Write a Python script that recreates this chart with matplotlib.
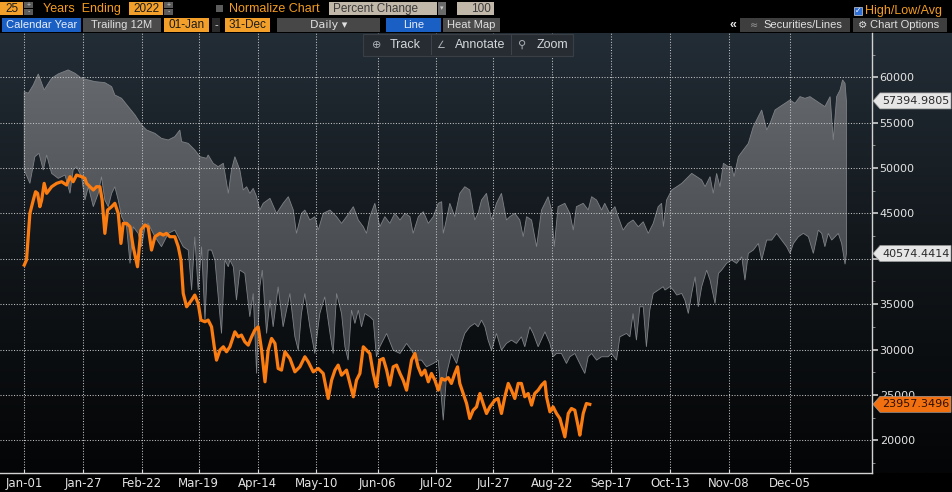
import numpy as np
import matplotlib
matplotlib.use('Agg')
import matplotlib.pyplot as plt
from matplotlib.patches import Rectangle, Polygon
from matplotlib.colors import LinearSegmentedColormap

W, H = 952, 492

# ---------------- data ----------------
tick_days = [0, 26, 52, 77, 103, 129, 156, 182, 207, 233, 259, 285, 311, 338]
tick_labels = ['Jan-01', 'Jan-27', 'Feb-22', 'Mar-19', 'Apr-14', 'May-10', 'Jun-06',
               'Jul-02', 'Jul-27', 'Aug-22', 'Sep-17', 'Oct-13', 'Nov-08', 'Dec-05']

y_ticks = [20000, 25000, 30000, 35000, 40000, 45000, 50000, 55000, 60000]
# 40000 is hidden behind the 40574 tag in the reference
y_tick_labels = ['20000', '25000', '30000', '35000', '', '45000', '50000', '55000', '60000']

high_days = [0, 1.8, 4.0, 6.2, 8.8, 12.1, 15.0, 19.4, 22.4, 25.3, 31.2, 35.6, 38.6, 40.0, 43.0,
             45.9, 48.9, 51.8, 54.0, 57.7, 60.6, 63.6, 66.5, 68.7, 69.5, 72.4, 75.3, 77.6, 80.5,
             81.2, 83.4, 85.6, 87.9, 90.1, 91.5, 93.0, 95.2, 96.7, 98.2, 99.6, 101.1, 102.6,
             104.0, 105.5, 108.5, 111.4, 114.3, 116.6, 118.8, 120.2, 122.4, 123.9, 126.1, 128.3,
             129.8, 132.0, 135.0, 137.9, 140.1, 142.3, 145.3, 147.5, 149.7, 151.1, 152.6, 154.8,
             157.0, 159.2, 161.4, 163.6, 165.9, 168.1, 170.3, 171.7, 174.0, 176.2, 178.4, 180.6,
             182.8, 184.3, 185.0, 185.7, 187.9, 190.1, 192.3, 194.5, 196.7, 198.9, 200.4, 201.9,
             204.1, 206.3, 208.5, 210.7, 212.9, 214.4, 216.6, 218.8, 220.3, 221.8, 224.0, 226.2,
             228.4, 231.3, 232.8, 234.0, 235.7, 238.7, 240.9, 242.4, 243.8, 246.8, 249.0, 250.5,
             252.7, 254.9, 256.3, 258.5, 260.8, 262.2, 264.4, 266.6, 268.8, 271.1, 273.3, 275.5,
             277.7, 279.9, 281.4, 282.2, 283.6, 285.9, 288.1, 290.3, 292.5, 294.7, 296.9, 299.1,
             300.6, 302.8, 304.2, 305.7, 307.2, 308.7, 310.9, 312.3, 313.4, 315.3, 317.5, 319.7,
             321.9, 324.1, 325.6, 327.8, 329.3, 331.5, 333.7, 335.9, 338.1, 340.3, 342.5, 344.7,
             346.9, 349.1, 351.3, 353.5, 355.8, 357.2, 358.7, 360.2, 361.3, 362.4, 363.0]
high_vals = [58420, 58240, 59150, 60370, 58600, 59890, 60370, 60810, 60440, 59890, 59520, 59410,
             58970, 58050, 57680, 56770, 55850, 54740, 54190, 53820, 53270, 53090, 53460, 54190,
             52910, 52720, 51990, 51250, 51070, 51440, 50520, 50150, 50520, 47210, 49780, 51250,
             49780, 47580, 47940, 47210, 47760, 46840, 45370, 46110, 46660, 45000, 46110, 46840,
             45370, 42800, 45000, 45370, 44270, 44640, 43160, 45000, 45370, 44640, 43900, 44640,
             45740, 44270, 43530, 42800, 44640, 46110, 43530, 44640, 43900, 45000, 44270, 45000,
             44640, 42800, 44640, 45190, 43900, 44640, 46110, 46290, 42800, 43530, 46110, 44640,
             47210, 47940, 47580, 44270, 45000, 46470, 47210, 44270, 46110, 47210, 44270, 44640,
             45000, 44270, 42430, 44640, 44270, 41330, 45370, 46840, 45370, 41330, 45740, 46110,
             45000, 43160, 45740, 46110, 45370, 46840, 46470, 45370, 46110, 45000, 45740, 44640,
             43160, 43900, 44270, 43530, 44080, 42800, 43900, 45740, 46110, 43530, 46470, 47580,
             47940, 48310, 48860, 49410, 49050, 48680, 47940, 49050, 47210, 49410, 47940, 50520,
             50150, 50150, 49050, 51250, 51990, 52720, 54560, 55660, 56400, 54190, 54930, 56400,
             56770, 57130, 57500, 57130, 57870, 57680, 57870, 57500, 57130, 56770, 57870, 53090,
             57870, 58600, 59710, 59340, 57394.9805]

low_days = [0, 2.5, 4.7, 6.5, 8.4, 9.9, 12.1, 15.0, 18.0, 20.2, 21.6, 23.1, 25.3, 26.8, 28.3,
            30.5, 32.7, 34.1, 35.6, 37.1, 38.6, 40.0, 41.5, 43.0, 45.2, 46.7, 48.1, 50.3, 51.8,
            53.3, 54.7, 57.7, 60.6, 63.6, 66.5, 68.7, 70.2, 72.4, 73.9, 75.3, 76.8, 78.3, 79.8,
            81.2, 82.7, 84.2, 87.1, 88.6, 90.1, 90.8, 92.3, 93.7, 95.2, 97.4, 99.6, 101.1, 102.6,
            104.0, 105.1, 107.0, 108.5, 109.9, 112.1, 114.3, 117.3, 119.5, 121.0, 122.4, 123.9,
            126.1, 128.3, 130.5, 132.7, 135.0, 136.4, 137.9, 140.1, 141.6, 143.0, 144.5, 146.0,
            147.5, 148.9, 150.4, 152.6, 154.1, 155.5, 157.0, 160.0, 162.9, 165.9, 168.8, 171.0,
            173.2, 175.4, 177.6, 180.6, 182.8, 185.0, 186.5, 188.6, 190.9, 193.1, 194.5, 196.7,
            198.9, 200.4, 201.9, 203.4, 204.8, 206.3, 208.5, 210.7, 212.9, 215.1, 217.3, 219.5,
            221.0, 223.2, 224.7, 226.9, 229.9, 232.1, 233.5, 235.0, 237.2, 239.4, 240.9, 243.1,
            246.0, 247.5, 249.0, 250.5, 252.7, 254.9, 257.8, 259.3, 261.5, 263.0, 265.9, 267.4,
            268.8, 270.3, 271.8, 273.3, 274.7, 276.2, 277.7, 279.9, 282.1, 282.9, 285.1, 286.6,
            288.1, 290.3, 291.7, 293.2, 294.7, 296.2, 297.6, 299.1, 301.3, 302.8, 305.0, 306.5,
            307.9, 310.1, 312.3, 314.5, 316.8, 318.2, 319.7, 321.9, 324.1, 325.6, 327.8, 330.0,
            332.2, 334.4, 336.6, 338.1, 339.6, 341.8, 344.0, 346.2, 348.4, 350.6, 352.1, 353.5,
            355.0, 356.5, 358.0, 359.4, 360.9, 362.4, 363.0]
low_vals = [49780, 48310, 51250, 51620, 49780, 51440, 49410, 48860, 49230, 47210, 49780, 50150,
            49050, 46470, 47940, 45740, 47210, 49050, 46470, 45740, 47210, 47940, 46470, 44640,
            43530, 39490, 43530, 42800, 41330, 43530, 43900, 42430, 41330, 42800, 43160, 42060,
            41330, 40960, 36550, 42430, 36550, 41330, 33240, 40960, 40960, 39860, 31770, 39860,
            39120, 39860, 39120, 35450, 38750, 38390, 33610, 36180, 27360, 36920, 38750, 31770,
            35450, 32500, 36920, 32500, 36180, 31400, 29930, 33970, 36180, 32500, 29560, 33970,
            35810, 31770, 29560, 36180, 33970, 30300, 28830, 34340, 32870, 34340, 32500, 33970,
            33610, 33240, 29200, 30300, 31770, 29930, 29560, 30670, 29930, 28830, 28830, 28090,
            28460, 28830, 22210, 27360, 29560, 28460, 30670, 31770, 32500, 32870, 32500, 33240,
            32500, 31030, 29930, 31770, 29930, 30670, 31030, 30670, 31400, 30300, 32500, 31770,
            30300, 31950, 30670, 29200, 29560, 29560, 28460, 29200, 29560, 28090, 27360, 29200,
            29560, 28830, 29200, 29200, 29560, 28830, 31400, 31770, 31400, 33970, 31030, 34710,
            34710, 30300, 34340, 36180, 36550, 36920, 36550, 36920, 36550, 36000, 36180, 35450,
            33970, 36180, 38020, 34710, 36920, 38750, 37650, 35080, 38390, 38750, 39490, 39860,
            39490, 40220, 37650, 40590, 40960, 41690, 39860, 42060, 42060, 42800, 42060, 41330,
            40590, 41690, 42430, 42800, 42430, 40590, 43160, 42800, 41330, 42800, 42060, 42430,
            42800, 41690, 39400, 40574.4414]

cur_days = [0, 1.0, 2.5, 4.0, 5.0, 5.9, 6.9, 7.7, 8.8, 9.9, 12.1, 14.3, 16.5, 18.7, 20.2, 21.6,
            23.1, 25.3, 26.8, 27.5, 29.0, 30.5, 31.9, 33.4, 34.4, 35.6, 36.8, 38.6, 40.0, 41.5,
            42.7, 43.7, 45.2, 46.7, 48.1, 50.0, 51.5, 53.3, 54.7, 56.2, 57.7, 59.9, 61.4, 62.8,
            64.3, 66.5, 68.0, 69.2, 70.2, 71.7, 73.9, 75.3, 76.8, 78.0, 79.8, 81.2, 82.7, 83.9,
            84.9, 86.4, 87.9, 89.3, 90.8, 93.0, 94.5, 95.9, 97.4, 98.9, 100.4, 101.8, 103.3,
            104.8, 106.3, 107.7, 109.2, 110.7, 112.1, 113.6, 115.1, 117.3, 119.5, 121.7, 123.9,
            125.4, 127.6, 129.8, 132.0, 134.2, 135.7, 137.2, 138.6, 140.1, 142.3, 143.8, 145.3,
            146.7, 148.2, 149.7, 151.1, 152.6, 154.1, 155.5, 157.0, 158.5, 160.0, 161.4, 162.9,
            164.4, 165.9, 167.3, 168.8, 171.0, 172.5, 173.9, 175.4, 176.9, 178.4, 179.8, 181.3,
            182.8, 184.3, 185.7, 187.2, 188.6, 190.1, 191.3, 192.3, 193.8, 195.3, 196.7, 198.2,
            199.7, 201.2, 202.6, 204.1, 205.6, 207.8, 209.2, 210.7, 212.2, 213.7, 215.1, 216.6,
            218.1, 219.5, 221.0, 222.5, 224.0, 225.4, 226.9, 228.4, 229.9, 230.6, 232.1, 233.5,
            235.0, 236.5, 237.9, 238.7, 240.2, 241.6, 243.1, 244.6, 245.3, 246.8, 248.2, 249.7]
cur_vals = [39300, 39860, 45000, 46470, 47390, 47210, 45740, 46470, 48310, 47210, 47940, 48310,
            48490, 48130, 49050, 48490, 49230, 49050, 48860, 48310, 47940, 47580, 47940, 47940,
            46470, 42800, 45370, 45740, 46110, 45000, 41690, 43900, 43900, 43530, 41330, 39120,
            43160, 43720, 43530, 40960, 42430, 42800, 42610, 42800, 42430, 42430, 41330, 39860,
            36180, 34710, 35450, 36000, 35080, 33240, 33060, 33240, 32500, 30300, 28830, 29930,
            30300, 29750, 30300, 31950, 31400, 31590, 30850, 30480, 31400, 32140, 32500, 29930,
            26440, 29930, 31220, 30670, 27910, 27730, 29750, 29010, 27540, 28090, 29200, 28640,
            27540, 27910, 27360, 24600, 26620, 27730, 28280, 27170, 27730, 26260, 24790, 26620,
            27360, 30300, 29930, 29560, 27360, 25890, 28830, 29010, 27730, 26070, 28090, 28280,
            27360, 26620, 25520, 28830, 29560, 28090, 27170, 27730, 26440, 27360, 26620, 25520,
            26810, 26620, 26900, 26260, 27360, 28090, 26260, 25150, 24050, 22400, 23310, 23680,
            25150, 24050, 22950, 23680, 24420, 24600, 22950, 24790, 26260, 25520, 24600, 26260,
            26260, 24790, 25150, 23870, 25150, 25520, 26070, 26440, 24790, 23130, 23680, 22950,
            22400, 21110, 20370, 22950, 23500, 23310, 21480, 20560, 22950, 24050, 23957.3496]

tag_high = 57394.9805
tag_low = 40574.4414
tag_last = 23957.3496

# ---------------- figure ----------------
fig = plt.figure(figsize=(W / 100, H / 100), dpi=100, facecolor='black')


def fx(x):
    return x / W


def fy(y):
    return 1 - y / H


def box(x0, y0, x1, y1, fc, ec='none', lw=0.0, z=5):
    fig.patches.append(Rectangle((fx(x0), fy(y1)), (x1 - x0) / W, (y1 - y0) / H,
                                 transform=fig.transFigure, facecolor=fc, edgecolor=ec,
                                 linewidth=lw, zorder=z))


def txt(x, y, s, color, size, ha='left', family='Liberation Sans', weight='normal'):
    fig.text(fx(x), fy(y), s, color=color, fontsize=size, ha=ha, va='center',
             family=[family, 'DejaVu Sans'], weight=weight, zorder=7)


# background gradient of the chart area
bg = fig.add_axes([0, fy(473), 1, 440 / H], zorder=-2)
bg_cmap = LinearSegmentedColormap.from_list('bg', ['#040506', '#11161a', '#232d36'])
bg.imshow(np.linspace(0, 1, 256).reshape(-1, 1), cmap=bg_cmap, aspect='auto',
          extent=[0, 1, 0, 1], origin='lower', interpolation='bilinear')
bg.axis('off')

ax = fig.add_axes([0, fy(473), 872 / W, 440 / H], zorder=0)
ax.patch.set_alpha(0)
xmin, xmax = -10.7, 374.3
ymin, ymax = 16390, 64880

# band (high / low) with vertical gradient
poly_x = np.concatenate([high_days, low_days[::-1]])
poly_y = np.concatenate([high_vals, low_vals[::-1]])
band = ax.fill(poly_x, poly_y, facecolor='none', edgecolor='#7e8287', linewidth=0.6, zorder=1.2)[0]
band_cmap = LinearSegmentedColormap.from_list('band', ['#373b40', '#4a4e53', '#666a6f'])
im = ax.imshow(np.linspace(0, 1, 256).reshape(-1, 1), cmap=band_cmap, aspect='auto',
               extent=[xmin, xmax, 20000, 61000], origin='lower', zorder=1.1,
               interpolation='bilinear')
im.set_clip_path(band)

# current year line
ax.plot(cur_days, cur_vals, color='#fb7d12', linewidth=2.3, zorder=3, solid_joinstyle='round')

ax.set_xlim(xmin, xmax)
ax.set_ylim(ymin, ymax)

ax.set_xticks(tick_days)
ax.set_xticklabels(tick_labels)
ax.yaxis.tick_right()
ax.set_yticks(y_ticks)
ax.set_yticks(np.arange(17500, 62501, 5000), minor=True)
ax.set_yticklabels(y_tick_labels)
ax.set_axisbelow('line')
ax.grid(True, which='major', color='#c4c4c4', linestyle=(0, (1.0, 1.6)), linewidth=0.75)
ax.tick_params(axis='x', direction='in', length=3, color='#d8d8d8', labelcolor='#e4e4e4',
               labelsize=8.5, pad=3)
ax.tick_params(axis='y', which='major', direction='out', length=4, width=1.2, color='#cfcfcf',
               labelcolor='#e4e4e4', labelsize=8, pad=1.5, right=True, left=False)
ax.tick_params(axis='y', which='minor', direction='out', length=2.5, color='#9a9a9a',
               right=True, left=False)
for s in ['top', 'left']:
    ax.spines[s].set_visible(False)
for s in ['bottom', 'right']:
    ax.spines[s].set_color('#d2d2d2')
    ax.spines[s].set_linewidth(1.0)


# price tags on right axis
def tag(value, text, face, tcolor):
    ypix = ax.transData.transform((0, value))[1]
    yc = H - ypix
    h = 8
    pts = [(873, yc), (880, yc - h), (951, yc - h), (951, yc + h), (880, yc + h)]
    fig.patches.append(Polygon([(fx(a), fy(b)) for a, b in pts], closed=True,
                               transform=fig.transFigure, facecolor=face,
                               edgecolor='#9a9a9a', linewidth=0.5, zorder=6))
    fig.text(fx(916), fy(yc), text, color=tcolor, fontsize=8, ha='center', va='center',
             family='DejaVu Sans', zorder=7)


tag(tag_high, f'{tag_high:.4f}', '#e6e6e6', '#2a2a2a')
tag(tag_low, f'{tag_low:.4f}', '#e6e6e6', '#2a2a2a')
tag(tag_last, f'{tag_last:.4f}', '#f2700f', '#2a1000')

# ---------------- toolbar ----------------
ORANGE = '#f3a02a'
OTXT = '#f39c1e'
GRAY = '#4b4b4b'
BLUE = '#1a5fc4'
BEIGE = '#c2b8a9'

# row 1
box(0, 2, 23, 15, ORANGE)
txt(11.5, 8.7, '25', '#1b1b1b', 8.5, ha='center')
box(24, 2, 33, 8.2, '#5a5a5a')
box(24, 9, 33, 15, '#5a5a5a')
txt(28.5, 5.2, '+', '#cfcfcf', 5, ha='center')
txt(28.5, 11.8, '-', '#cfcfcf', 5, ha='center')
txt(43, 9, 'Years  Ending', OTXT, 9)
box(129, 2, 163, 15, ORANGE)
txt(146, 8.7, '2022', '#1b1b1b', 8.5, ha='center')
box(164, 2, 173, 8.2, '#5a5a5a')
box(164, 9, 173, 15, '#5a5a5a')
txt(168.5, 5.2, '+', '#cfcfcf', 5, ha='center')
txt(168.5, 11.8, '-', '#cfcfcf', 5, ha='center')
box(216, 5, 223, 12, '#5c5c5c')
txt(229, 9, 'Normalize Chart', OTXT, 9)
box(329, 2, 437, 15, BEIGE)
txt(333, 9, 'Percent Change', '#3a3a3a', 8.5)
box(438, 2, 446, 15, '#6a6a6a')
txt(442, 8, '▾', '#cfcfcf', 5, ha='center', family='DejaVu Sans')
box(457, 2, 494, 15, BEIGE)
txt(481, 9, '100', '#3a3a3a', 8.5, ha='center')
box(854, 7, 862, 15, '#2d6fd6', ec='#d0d0d0', lw=0.5)
txt(858, 10.8, '✓', 'white', 5.5, ha='center', family='DejaVu Sans')
txt(865, 11, 'High/Low/Avg', OTXT, 9)

# row 2
box(2, 18, 81, 32, BLUE)
txt(41.5, 25, 'Calendar Year', '#e8eef8', 8, ha='center')
box(83, 18, 161, 32, GRAY)
txt(122, 25, 'Trailing 12M', '#e0e0e0', 8, ha='center')
box(164, 18, 209, 32, ORANGE)
txt(186.5, 25, '01-Jan', '#1b1b1b', 8.5, ha='center')
box(212, 18, 220, 32, '#2a2a2a')
txt(216, 25, '-', '#e0e0e0', 8, ha='center')
box(225, 18, 270, 32, ORANGE)
txt(247.5, 25, '31-Dec', '#1b1b1b', 8.5, ha='center')
box(277, 18, 380, 32, '#474747')
txt(328.5, 25, 'Daily ▾', '#e0e0e0', 8, ha='center', family='DejaVu Sans')
box(386, 18, 441, 32, BLUE)
txt(413.5, 25, 'Line', '#e8eef8', 8, ha='center')
box(443, 18, 500, 32, GRAY)
txt(471.5, 25, 'Heat Map', '#e0e0e0', 8, ha='center')
txt(733, 25, '«', '#e8e8e8', 9, ha='center', weight='bold')
box(740, 18, 850, 32, '#3e3e3e')
txt(754, 25, '≈', '#9a9a9a', 7, ha='center', family='DejaVu Sans')
txt(763, 25, 'Securities/Lines', '#e0e0e0', 8)
box(853, 18, 947, 32, '#3e3e3e')
txt(858, 25, '⚙', '#e0e0e0', 7.5, family='DejaVu Sans')
txt(870, 25, 'Chart Options', '#e0e0e0', 8)

# chart sub-toolbar
box(363, 34, 573, 56, '#272c32', ec='#3a3f46', lw=0.8)
box(431, 35, 432, 55, '#3d434a')
box(511, 35, 512, 55, '#3d434a')
txt(377, 45, '⊕', '#aab0b6', 8, ha='center', family='DejaVu Sans')
txt(390, 45, 'Track', '#d4d8dc', 9)
txt(441, 45, '∠', '#aab0b6', 7, ha='center', family='DejaVu Sans')
txt(455, 45, 'Annotate', '#d4d8dc', 9)
txt(522, 45, '⚲', '#aab0b6', 8, ha='center', family='DejaVu Sans')
txt(537, 45, 'Zoom', '#d4d8dc', 9)

fig.savefig('out.png', dpi=100, facecolor='black')
